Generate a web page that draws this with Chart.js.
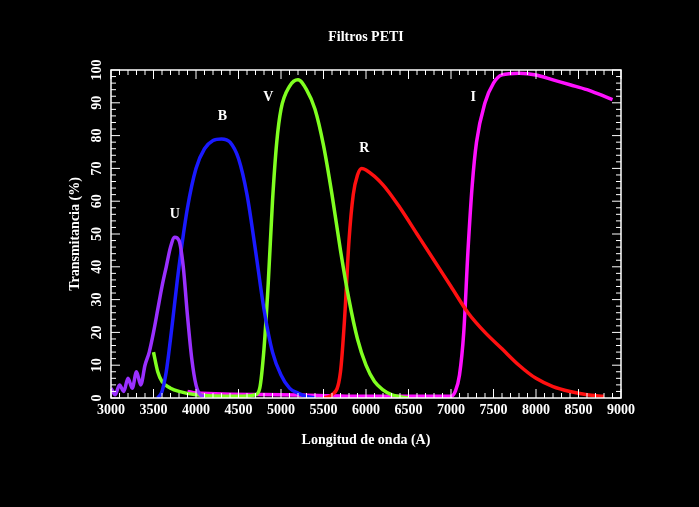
<!DOCTYPE html>
<html>
<head>
<meta charset="utf-8">
<script src="https://cdn.jsdelivr.net/npm/chart.js@4"></script>
<style>
html,body{margin:0;padding:0;background:#000;}
#wrap{width:699px;height:507px;}
</style>
</head>
<body>
<div id="wrap"><canvas id="peti"></canvas></div>
<script>
const xTicks = [3000, 3500, 4000, 4500, 5000, 5500, 6000, 6500, 7000, 7500, 8000, 8500, 9000];
const yTicks = [0, 10, 20, 30, 40, 50, 60, 70, 80, 90, 100];

const uWave = [3000,3050,3100,3150,3200,3250,3300,3350,3400,3450,3500,3550,3600,3650,3700,3750,3800,3850,3900,3950,4000,4050,4100];
const uTrans = [3,1,4,2,6,3,8,4,10,14,20,27,34,40,46,49,48,40,25,12,4,1,0.5];

const bWave = [3550,3600,3650,3700,3800,3900,4000,4100,4200,4300,4400,4500,4600,4700,4800,4900,5000,5100,5200,5300,5400];
const bTrans = [0,2,8,18,40,58,70,76,78.5,79,78,73,62,45,27,14,7,3,1.5,0.5,0];

const vWave = [3500,3550,3600,3700,3800,4000,4500,4700,4750,4800,4850,4900,4950,5000,5100,5200,5300,5400,5500,5600,5700,5800,5900,6000,6100,6200,6300,6500];
const vTrans = [14,8,5,3,2,1,0.5,1,3,15,35,60,78,88,95,97,94,88,77,62,45,30,18,10,5,2.5,1,0];

const rWave = [5500,5600,5700,5750,5800,5850,5900,5950,6000,6200,6400,6600,6800,7000,7200,7400,7600,7800,8000,8200,8400,8600,8800];
const rTrans = [0,1,8,25,48,62,68,70,69.5,65,58,50,42,34,26,20,15,10,6,3.5,2,1,0.5];

const iWave = [3900,4000,5000,6000,7000,7050,7100,7150,7200,7250,7300,7400,7500,7600,7800,8000,8200,8400,8600,8800,8900];
const iTrans = [2,1.5,1,0.5,0.5,2,7,20,45,65,78,90,96,98.5,99,98.5,97,95.5,94,92,91];

const filterNames = ['U', 'B', 'V', 'R', 'I'];
const labelX = [3750, 4310, 4850, 5980, 7260];
const labelY = [56, 86, 91.5, 76, 91.5];

const pts = (xs, ys) => xs.map((x, i) => ({x: x, y: ys[i]}));
const FONT = 'bold 14px "Liberation Serif"';

const framePlugin = {
    id: 'frame',
    afterDraw(chart) {
        const c = chart.ctx, a = chart.chartArea;
        const xs = chart.scales.x, ys = chart.scales.y;
        c.save();
        c.strokeStyle = '#fff';
        c.lineWidth = 1.5;
        c.strokeRect(a.left, a.top, a.right - a.left, a.bottom - a.top);
        c.lineWidth = 1;
        c.beginPath();
        for (let v = 3000; v <= 9000; v += 100) {
            const px = xs.getPixelForValue(v), len = v % 500 === 0 ? 9 : 5;
            c.moveTo(px, a.bottom); c.lineTo(px, a.bottom - len);
            c.moveTo(px, a.top); c.lineTo(px, a.top + len);
        }
        for (let v = 0; v <= 100; v += 2) {
            const py = ys.getPixelForValue(v), len = v % 10 === 0 ? 9 : 5;
            c.moveTo(a.left, py); c.lineTo(a.left + len, py);
            c.moveTo(a.right, py); c.lineTo(a.right - len, py);
        }
        c.stroke();
        c.fillStyle = '#fff';
        c.font = FONT;
        c.textAlign = 'center';
        c.textBaseline = 'top';
        xTicks.forEach(v => c.fillText(String(v), xs.getPixelForValue(v), a.bottom + 5));
        c.textBaseline = 'middle';
        yTicks.forEach(v => {
            c.save();
            c.translate(a.left - 14, ys.getPixelForValue(v));
            c.rotate(-Math.PI / 2);
            c.fillText(String(v), 0, 0);
            c.restore();
        });
        c.fillText('Filtros PETI', (a.left + a.right) / 2, 37);
        c.fillText('Longitud de onda (A)', (a.left + a.right) / 2, 440);
        c.save();
        c.translate(75, (a.top + a.bottom) / 2);
        c.rotate(-Math.PI / 2);
        c.fillText('Transmitancia (%)', 0, 0);
        c.restore();
        filterNames.forEach((n, i) => c.fillText(n, xs.getPixelForValue(labelX[i]), ys.getPixelForValue(labelY[i])));
        c.restore();
    }
};

const line = (data, color) => ({
    data: data, borderColor: color, borderWidth: 3.5, pointRadius: 0,
    cubicInterpolationMode: 'monotone', fill: false
});

new Chart(document.getElementById('peti'), {
    type: 'line',
    data: {
        datasets: [
            line(pts(uWave, uTrans), '#9a30ff'),
            line(pts(bWave, bTrans), '#1a1aff'),
            line(pts(vWave, vTrans), '#80ff20'),
            line(pts(rWave, rTrans), '#ff1010'),
            line(pts(iWave, iTrans), '#ff10ff')
        ]
    },
    options: {
        responsive: true,
        maintainAspectRatio: false,
        animation: false,
        layout: {padding: {left: 111, right: 78, top: 70, bottom: 109}},
        plugins: {legend: {display: false}, tooltip: {enabled: false}},
        scales: {
            x: {type: 'linear', min: 3000, max: 9000, display: false},
            y: {min: 0, max: 100, display: false}
        }
    },
    plugins: [framePlugin]
});
</script>
</body>
</html>
